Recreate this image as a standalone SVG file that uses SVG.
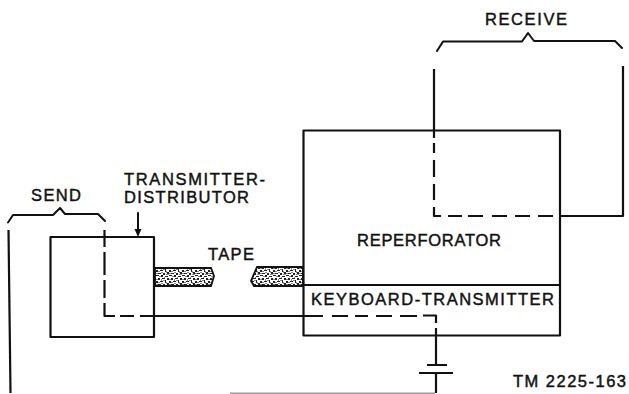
<svg xmlns="http://www.w3.org/2000/svg" width="629" height="394" viewBox="0 0 629 394">
<style>
.l{fill:none;stroke:#111;stroke-width:2.200;stroke-linejoin:round}
.t{fill:none;stroke:#111;stroke-width:2;stroke-linecap:round;stroke-linejoin:round}
.x{font-family:"Liberation Sans",Arial,sans-serif;font-size:16.500px;fill:#111;stroke:#111;stroke-width:.45}
.g{stroke:#999;stroke-width:1.500;fill:none}
</style>
<defs>
<pattern id="st" width="13" height="11" patternUnits="userSpaceOnUse">
<rect width="13" height="11" fill="#fff"/>
<path d="M0 0h3v1h-3zM5 0h2v2h-2zM9 1h3v1h-3zM2 3h2v2h-2zM6 3h3v1h-3zM11 3h2v2h-2zM0 6h2v2h-2zM4 6h3v1h-3zM9 5h1v3h-1zM2 9h3v1h-3zM7 9h2v2h-2zM11 8h2v2h-2z" fill="#222"/>
<path d="M3 1h2v1h-2zM8 2h1v1h-1zM0 4h2v1h-2zM5 4h1v2h-1zM7 5h2v1h-2zM2 7h2v1h-2zM10 7h1v2h-1zM0 9h2v1h-2zM5 8h2v1h-2zM10 10h3v1h-3z" fill="#888"/>
</pattern>
</defs>
<g id="connectors">
<path class="l" d="M8.500 230 L10.500 393"/>
<path class="l" d="M104.500 230V247M104.500 252V275M104.500 280V298M104.500 303V316H115M120 316H134"/>
<path class="l" d="M140 316H323"/>
<path class="l" d="M332 316H348M355 316H368M376 316H392M400 316H417M423 315.500H436V323M436 328V337"/>
<path class="l" d="M436 337V365"/>
<path class="l" d="M436 373V393"/>
<path class="g" d="M230 393.200H435"/>
<path class="l" d="M434 69V130"/>
<path class="l" d="M434 130V138M434 143V153M434 160V177M434 184V200M434 207V216H441M448 216H462M468 216H483M492 216H507M515 216H530M538 216H553"/>
<path class="l" d="M560 216H623V66"/>
</g>
<g id="send-brace"><path class="t" d="M8 222.500L13 215H53L60 208L65 214H98L105 221"/></g>
<g id="receive-brace"><path class="t" d="M437 51L443 41.500H522L528 33L534 41H615L622 48"/></g>
<g id="transmitter-distributor">
<rect class="l" x="50.500" y="237" width="103.500" height="100"/>
<text class="x" x="124" y="185" textLength="141" lengthAdjust="spacing">TRANSMITTER-</text>
<text class="x" x="124" y="203" textLength="125" lengthAdjust="spacing">DISTRIBUTOR</text>
<path class="t" d="M138 213V232"/>
<path d="M134.500 229H141.500L138 237Z" fill="#111"/>
</g>
<g id="tape">
<path d="M155 268H211L214 276L211 286H155Z" fill="url(#st)" stroke="#111" stroke-width="1.800"/>
<path d="M257 267H303V286H254L251 281Z" fill="url(#st)" stroke="#111" stroke-width="1.800"/>
<text class="x" x="208" y="260" textLength="46" lengthAdjust="spacing">TAPE</text>
</g>
<g id="reperforator">
<rect class="l" x="303.500" y="130.500" width="256.500" height="154.500"/>
<text class="x" x="357" y="245.500" textLength="144" lengthAdjust="spacing">REPERFORATOR</text>
</g>
<g id="keyboard-transmitter">
<rect class="l" x="303.500" y="285" width="256.500" height="50.500"/>
<text class="x" x="311" y="305" textLength="243" lengthAdjust="spacing">KEYBOARD-TRANSMITTER</text>
</g>
<g id="battery">
<path class="l" d="M427 365H447M419 373H453"/>
</g>
<text class="x" x="513" y="387" textLength="113" lengthAdjust="spacing">TM 2225-163</text>
<text class="x" x="485" y="25" textLength="82" lengthAdjust="spacing">RECEIVE</text>
<text class="x" x="31" y="201" textLength="50" lengthAdjust="spacing">SEND</text>
</svg>
